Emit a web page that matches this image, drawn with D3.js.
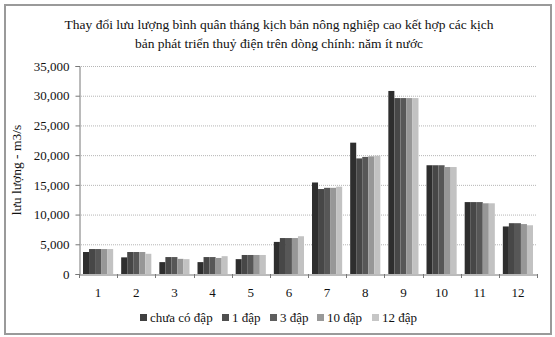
<!DOCTYPE html>
<html><head><meta charset="utf-8">
<script src="https://cdn.jsdelivr.net/npm/d3@7"></script>
<style>body{margin:0;background:#fff}svg{display:block}text{font-family:"Liberation Serif","Times New Roman",serif;fill:#111}</style>
</head><body><svg id="c" width="555" height="337"></svg>
<script>
const months = ["1","2","3","4","5","6","7","8","9","10","11","12"];
const seriesNames = ["chưa có đập","1 đập","3 đập","10 đập","12 đập"];
const chuaCoDap = [3700,2800,2000,2000,2500,5400,15400,22100,30800,18300,12100,8000];
const dap1 = [4200,3700,2850,2850,3200,6050,14300,19450,29600,18300,12100,8550];
const dap3 = [4200,3700,2850,2850,3200,6050,14500,19700,29600,18300,12100,8550];
const dap10 = [4200,3700,2550,2700,3200,6050,14500,19800,29600,18000,11900,8400];
const dap12 = [4200,3400,2500,3000,3200,6350,14700,19900,29600,18000,11900,8200];
const yTicks = [0,5000,10000,15000,20000,25000,30000,35000];
const series = [chuaCoDap,dap1,dap3,dap10,dap12];
const colors = ["#2e2e2e","#474747","#575757","#979797","#c2c2c2"];
const legendColors = ["#404040","#4f4f4f","#5e5e5e","#999999","#c6c6c6"];

const svg = d3.select("#c");
svg.append("rect").attr("x",5).attr("y",5).attr("width",546).attr("height",329)
  .attr("fill","#fff").attr("stroke","#9a9a9a").attr("stroke-width",2);

const L=79,R=537,T=66,B=274;
const x = d3.scaleBand().domain(months).range([L,R]).paddingInner(0.21).paddingOuter(0.105);
const xs = d3.scaleBand().domain(d3.range(5)).range([0,x.bandwidth()]);
const y = d3.scaleLinear().domain([0,35000]).range([B,T]);

// grid
svg.append("g").selectAll("line").data(yTicks.filter(d=>d>0)).join("line")
  .attr("x1",L).attr("x2",R).attr("y1",d=>y(d)+0.5).attr("y2",d=>y(d)+0.5)
  .attr("stroke","#b5b5b5").attr("stroke-width",1).attr("stroke-dasharray","1,1");

// bars
const g = svg.append("g");
months.forEach((m,i)=>{
  series.forEach((s,j)=>{
    g.append("rect").attr("x",x(m)+xs(j)).attr("width",xs.bandwidth())
      .attr("y",y(s[i])).attr("height",B-y(s[i])).attr("fill",colors[j]);
  });
});

// y axis
const ya = svg.append("g").attr("transform",`translate(${L+0.5},0)`)
  .call(d3.axisLeft(y).tickValues(yTicks).tickSize(4).tickPadding(6).tickFormat(d3.format(",")));
ya.select(".domain").attr("stroke","#777");
ya.selectAll(".tick line").attr("stroke","#777");
ya.selectAll("text").style("font-size","13px").attr("fill","#111");

// x axis
const xa = svg.append("g").attr("transform",`translate(0,${B+0.5})`)
  .call(d3.axisBottom(x).tickSize(0).tickPadding(13));
xa.select(".domain").attr("stroke","#777");
xa.selectAll("text").style("font-size","13px").attr("fill","#111");
const bounds = d3.range(13).map(k=>L+k*(R-L)/12);
svg.append("g").selectAll("line").data(bounds).join("line")
  .attr("x1",d=>Math.round(d)+0.5).attr("x2",d=>Math.round(d)+0.5).attr("y1",B).attr("y2",B+4).attr("stroke","#777");

// title
svg.append("text").attr("x",279).attr("y",29).attr("text-anchor","middle").style("font-size","13.5px")
  .text("Thay đổi lưu lượng bình quân tháng kịch bản nông nghiệp cao kết hợp các kịch");
svg.append("text").attr("x",279).attr("y",48).attr("text-anchor","middle").style("font-size","13.5px")
  .text("bản phát triển thuỷ điện trên dòng chính: năm ít nước");

// y label
svg.append("text").attr("transform","translate(21,170) rotate(-90)").attr("text-anchor","middle")
  .style("font-size","13.5px").text("lưu lượng - m3/s");

// legend
const lx = [140,222,270,317,372];
const lg = svg.append("g");
seriesNames.forEach((n,j)=>{
  lg.append("rect").attr("x",lx[j]).attr("y",314).attr("width",7).attr("height",7).attr("fill",legendColors[j]);
  lg.append("text").attr("x",lx[j]+10).attr("y",322).style("font-size","13px").text(n);
});
</script></body></html>
